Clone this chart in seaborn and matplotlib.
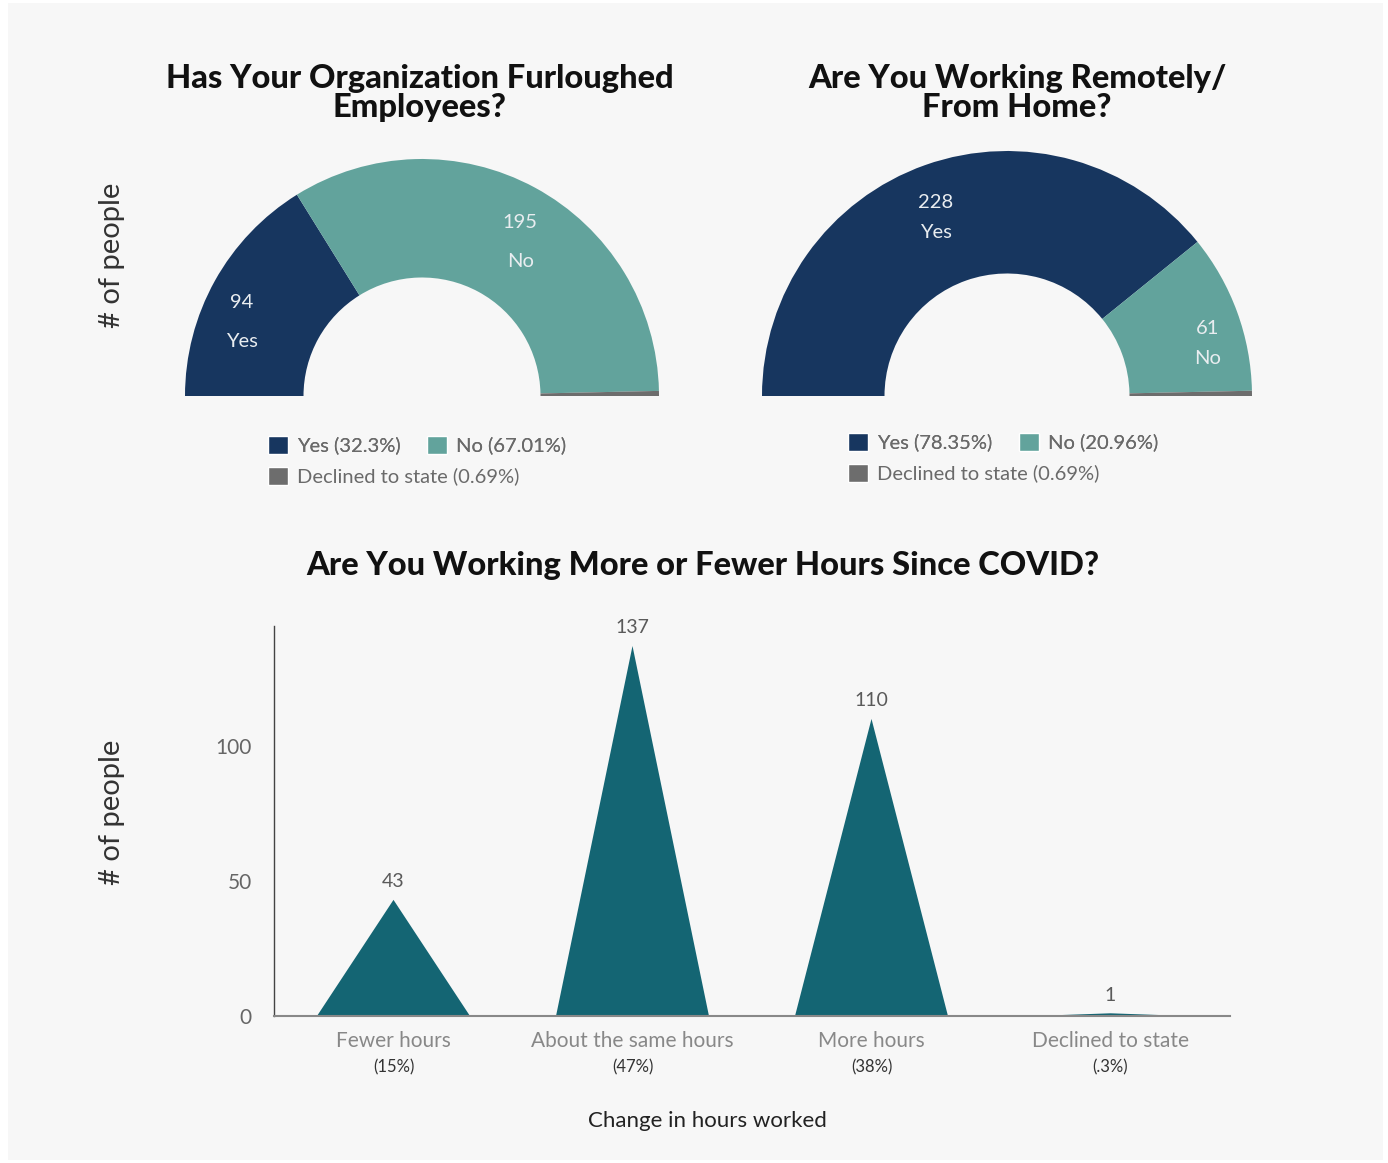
import numpy as np
import matplotlib.pyplot as plt
import seaborn as sns
from matplotlib.patches import Rectangle, Patch

# survey data
furlough_labels = ["Yes", "No", "Declined to state"]
furlough_counts = [94, 195, 2]
furlough_pct = ["32.3%", "67.01%", "0.69%"]

remote_labels = ["Yes", "No", "Declined to state"]
remote_counts = [228, 61, 2]
remote_pct = ["78.35%", "20.96%", "0.69%"]

hours_labels = ["Fewer hours", "About the same hours", "More hours", "Declined to state"]
hours_counts = [43, 137, 110, 1]
hours_pct = ["(15%)", "(47%)", "(38%)", "(.3%)"]

navy = "#17365f"
teal = "#62a39c"
grey = "#6d6d6d"
peak = "#146573"

sns.set_style("white")
plt.rcParams["font.family"] = ["Lato", "DejaVu Sans"]

W, H = 1388, 1163
fig = plt.figure(figsize=(W / 100, H / 100), dpi=100, facecolor="white")
fig.patches.append(Rectangle((8 / W, 3 / H), (1383 - 8) / W, (1160 - 3) / H,
                             transform=fig.transFigure, facecolor="#f7f7f7",
                             edgecolor="none", zorder=-1))


def px_axes(x0, y0, x1, y1):
    ax = fig.add_axes([x0 / W, 1 - y1 / H, (x1 - x0) / W, (y1 - y0) / H])
    ax.set_facecolor("none")
    return ax


def half_donut(ax, counts, labels, pcts, leg_x, leg_y, gap):
    total = sum(counts)
    ax.pie(counts + [total], colors=[navy, teal, grey, "none"], startangle=180,
           counterclock=False, radius=1, wedgeprops=dict(width=0.5, linewidth=0))
    ax.set_xlim(-1, 1)
    ax.set_ylim(0, 1)
    ax.axis("off")
    cum = 0
    for c, lab in zip(counts[:2], labels[:2]):
        a = np.deg2rad(180 - 180 * (cum + c / 2) / total)
        x, y = 0.87 * np.cos(a), 0.86 * np.sin(a) - 0.022
        ax.text(x, y, str(c), ha="center", va="center", fontsize=14.5, color="#e9edf0")
        ax.text(x, y - gap, lab, ha="center", va="center", fontsize=14.5, color="#e9edf0")
        cum += c
    cols = [navy, teal, grey]
    h = [Patch(facecolor=cols[i], label=f"{labels[i]} ({pcts[i]})") for i in range(3)]
    kw = dict(frameon=False, fontsize=14.5, handlelength=1.0, handleheight=1.0,
              handletextpad=0.45, columnspacing=1.3, borderpad=0, borderaxespad=0,
              labelcolor="#6a6a6a", loc="center left")
    l1 = fig.legend(handles=h[:2], ncol=2, bbox_to_anchor=(leg_x / W, 1 - leg_y / H), **kw)
    fig.add_artist(l1)
    fig.legend(handles=h[2:], bbox_to_anchor=(leg_x / W, 1 - (leg_y + 31) / H), **kw)


ax1 = px_axes(185, 159, 659, 396)
half_donut(ax1, furlough_counts, furlough_labels, furlough_pct, 268, 445, 0.165)
ax2 = px_axes(762, 151, 1252, 396)
half_donut(ax2, remote_counts, remote_labels, remote_pct, 848, 442, 0.12)

title_kw = dict(ha="center", va="center", fontsize=23.5, fontweight="black",
                color="#111111", linespacing=1.0)
fig.text(420 / W, 1 - 93 / H, "Has Your Organization Furloughed\nEmployees?", **title_kw)
fig.text(1017 / W, 1 - 93 / H, "Are You Working Remotely/\nFrom Home?", **title_kw)
fig.text(703 / W, 1 - 566 / H, "Are You Working More or Fewer Hours Since COVID?", **title_kw)

for yc in (255, 812):
    fig.text(112 / W, 1 - yc / H, "# of people", rotation=90, ha="center", va="center",
             fontsize=21, color="#333333")

# triangle "bars"
ax3 = px_axes(274, 626, 1230, 1016)
half_w = 0.32
for i, v in enumerate(hours_counts):
    xc = i + 0.5
    ax3.fill([xc - half_w, xc, xc + half_w], [0, v, 0], color=peak, linewidth=0)
    ax3.annotate(str(v), (xc, v), xytext=(0, 7), textcoords="offset points",
                 ha="center", va="bottom", fontsize=14, color="#5a5a5a")
    ax3.text(xc, -0.133, hours_pct[i], transform=ax3.get_xaxis_transform(),
             ha="center", va="center", fontsize=12, color="#333333")
ax3.set_xlim(0, 4)
ax3.set_ylim(0, 144.4)
ax3.set_xticks([i + 0.5 for i in range(len(hours_labels))])
ax3.set_xticklabels(hours_labels, fontsize=15, color="#888888")
ax3.set_yticks([0, 50, 100])
ax3.set_yticklabels(["0", "50", "100"], fontsize=15, color="#666666")
ax3.tick_params(axis="x", length=0, pad=11)
ax3.tick_params(axis="y", length=0, pad=16)
for s in ("top", "right"):
    ax3.spines[s].set_visible(False)
ax3.spines["left"].set_color("#444444")
ax3.spines["left"].set_linewidth(1.0)
ax3.spines["bottom"].set_color("#888888")
ax3.spines["bottom"].set_linewidth(1.5)

fig.text(707 / W, 1 - 1121 / H, "Change in hours worked", ha="center", va="center",
         fontsize=16, color="#222222")

fig.savefig("out.png", dpi=100, facecolor=fig.get_facecolor())
